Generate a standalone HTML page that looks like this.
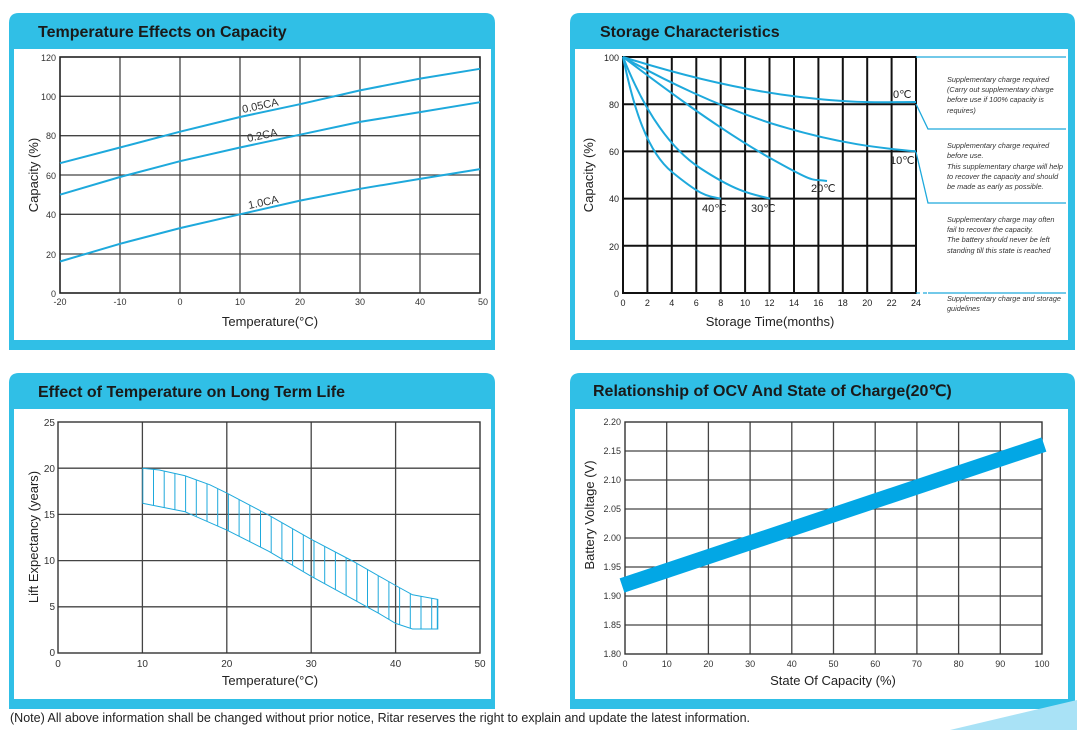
<!DOCTYPE html>
<html><head><meta charset="utf-8"><style>
html,body{margin:0;padding:0;background:#fff;}
svg{display:block;font-family:"Liberation Sans",Arial,sans-serif;}
</style></head><body>
<svg width="1077" height="730" viewBox="0 0 1077 730" xmlns="http://www.w3.org/2000/svg">
<defs>
<clipPath id="band"><polygon points="142.4,468.2 159.3,470 184.6,475.6 209.9,484.8 226.8,493.1 269,515.3 311.2,539.3 353.4,561.5 395.6,585.5 412.5,594.8 437.8,599.4 437.8,629 412.5,629 395.6,623.4 378.7,613.3 353.4,599.4 311.2,576.3 269,551.4 226.8,530.1 184.6,511.6 142.4,503.3"/></clipPath>
</defs>
<g fill="#30bfe6">
<path d="M9,23 Q9,13 19,13 L485,13 Q495,13 495,23 L495,350 L9,350 Z"/>
<path d="M570,23 Q570,13 580,13 L1065,13 Q1075,13 1075,23 L1075,350 L570,350 Z"/>
<path d="M9,383 Q9,373 19,373 L485,373 Q495,373 495,383 L495,709 L9,709 Z"/>
<path d="M570,383 Q570,373 580,373 L1065,373 Q1075,373 1075,383 L1075,709 L570,709 Z"/>
</g>
<g fill="#fff">
<rect x="14" y="49" width="477" height="291"/>
<rect x="575" y="49" width="493" height="291"/>
<rect x="14" y="409" width="477" height="290"/>
<rect x="575" y="409" width="493" height="290"/>
</g>
<g font-weight="bold" font-size="16" fill="#1a1a1a">
<text x="38" y="37">Temperature Effects on Capacity</text>
<text x="600" y="37">Storage Characteristics</text>
<text x="38" y="397">Effect of Temperature on Long Term Life</text>
<text x="593" y="396">Relationship of OCV And State of Charge(20℃)</text>
</g>
<polygon points="950,730 1077,700 1077,730" fill="#a9e2f6"/>
<text x="10" y="722" font-size="12.5" fill="#222">(Note) All above information shall be changed without prior notice, Ritar reserves the right to explain and update the latest information.</text>

<g stroke="#444" stroke-width="1.3">
<line x1="120" y1="57" x2="120" y2="293"/><line x1="180" y1="57" x2="180" y2="293"/><line x1="240" y1="57" x2="240" y2="293"/><line x1="300" y1="57" x2="300" y2="293"/><line x1="360" y1="57" x2="360" y2="293"/><line x1="420" y1="57" x2="420" y2="293"/>
<line x1="60" y1="254" x2="480" y2="254"/><line x1="60" y1="214.3" x2="480" y2="214.3"/><line x1="60" y1="175" x2="480" y2="175"/><line x1="60" y1="135.7" x2="480" y2="135.7"/><line x1="60" y1="96.3" x2="480" y2="96.3"/>
</g>
<rect x="60" y="57" width="420" height="236" fill="none" stroke="#222" stroke-width="1.6"/>
<g fill="none" stroke="#1ea9dc" stroke-width="2">
<polyline points="60,163.2 120,147.5 180,131.7 240,117 300,104.2 360,90.4 420,78.6 480,68.8"/>
<polyline points="60,194.7 120,177 180,161.2 240,147.5 300,134.7 360,121.9 420,112.1 480,102.2"/>
<polyline points="60,261.5 120,243.8 180,228.1 240,214.3 300,200.6 360,188.8 420,178.9 480,169.1"/>
</g>
<g font-size="11" fill="#333">
<text x="243" y="113" transform="rotate(-12 243 113)">0.05CA</text>
<text x="248" y="142" transform="rotate(-12 248 142)">0.2CA</text>
<text x="249" y="209" transform="rotate(-12 249 209)">1.0CA</text>
</g>
<g font-size="9" fill="#333" text-anchor="end">
<text x="56" y="61">120</text><text x="56" y="100">100</text><text x="56" y="139">80</text><text x="56" y="179">60</text><text x="56" y="218">40</text><text x="56" y="258">20</text><text x="56" y="297">0</text>
</g>
<g font-size="9" fill="#333" text-anchor="middle">
<text x="60" y="305">-20</text><text x="120" y="305">-10</text><text x="180" y="305">0</text><text x="240" y="305">10</text><text x="300" y="305">20</text><text x="360" y="305">30</text><text x="420" y="305">40</text><text x="483" y="305">50</text>
</g>
<text x="270" y="326" font-size="13" fill="#222" text-anchor="middle">Temperature(°C)</text>
<text x="38" y="175" font-size="13" fill="#222" text-anchor="middle" transform="rotate(-90 38 175)">Capacity  (%)</text>

<g stroke="#111" stroke-width="2">
<line x1="647.4" y1="57" x2="647.4" y2="293"/><line x1="671.8" y1="57" x2="671.8" y2="293"/><line x1="696.3" y1="57" x2="696.3" y2="293"/><line x1="720.7" y1="57" x2="720.7" y2="293"/><line x1="745.1" y1="57" x2="745.1" y2="293"/><line x1="769.5" y1="57" x2="769.5" y2="293"/><line x1="794" y1="57" x2="794" y2="293"/><line x1="818.4" y1="57" x2="818.4" y2="293"/><line x1="842.8" y1="57" x2="842.8" y2="293"/><line x1="867.2" y1="57" x2="867.2" y2="293"/><line x1="891.6" y1="57" x2="891.6" y2="293"/>
<line x1="623" y1="104.2" x2="916" y2="104.2"/><line x1="623" y1="151.4" x2="916" y2="151.4"/><line x1="623" y1="198.6" x2="916" y2="198.6"/><line x1="623" y1="245.8" x2="916" y2="245.8"/>
</g>
<rect x="623" y="57" width="293" height="236" fill="none" stroke="#111" stroke-width="2"/>
<g fill="none" stroke="#1ea9dc" stroke-width="2" stroke-linejoin="round">
<path d="M623,57 C680,75 740,90 800,97 S880,102 916,102"/>
<path d="M623,57 C660,78 720,108 780,126 S880,148 916,151.4"/>
<path d="M623,57 C660,85 720,130 770,158 S810,178 827,181"/>
<path d="M623,57 C640,100 665,145 700,168 S750,194 770,198.6"/>
<path d="M623,57 C632,100 645,150 672,172 S705,196 721,198.6"/>
</g>
<g font-size="11" fill="#222">
<text x="893" y="98">0℃</text><text x="890" y="164">10℃</text><text x="811" y="192">20℃</text><text x="702" y="212">40℃</text><text x="751" y="212">30℃</text>
</g>
<g fill="none" stroke="#1ea9dc" stroke-width="1.3">
<line x1="916" y1="57" x2="1066" y2="57"/>
<polyline points="916,104 928,129 1066,129"/>
<polyline points="916,152 928,203 1066,203"/>
<line x1="928" y1="293" x2="1066" y2="293"/>
<line x1="916" y1="293" x2="928" y2="293" stroke-dasharray="4,3"/>
</g>
<g font-size="7.3" font-style="italic" fill="#333">
<text x="947" y="82">Supplementary charge required</text>
<text x="947" y="92">(Carry out supplementary charge</text>
<text x="947" y="102">before use if 100% capacity is</text>
<text x="947" y="113">requires)</text>
<text x="947" y="148">Supplementary charge required</text>
<text x="947" y="158">before use.</text>
<text x="947" y="169">This supplementary charge will help</text>
<text x="947" y="179">to recover the capacity and should</text>
<text x="947" y="189">be made  as early as possible.</text>
<text x="947" y="222">Supplementary charge may often</text>
<text x="947" y="232">fail to recover the capacity.</text>
<text x="947" y="242">The battery should never be left</text>
<text x="947" y="253">standing till this state is reached</text>
<text x="947" y="301">Supplementary charge and storage</text>
<text x="947" y="311">guidelines</text>
</g>
<g font-size="9" fill="#222" text-anchor="end">
<text x="619" y="61">100</text><text x="619" y="108">80</text><text x="619" y="155">60</text><text x="619" y="202">40</text><text x="619" y="250">20</text><text x="619" y="297">0</text>
</g>
<g font-size="9" fill="#222" text-anchor="middle">
<text x="623" y="306">0</text><text x="647.4" y="306">2</text><text x="671.8" y="306">4</text><text x="696.3" y="306">6</text><text x="720.7" y="306">8</text><text x="745.1" y="306">10</text><text x="769.5" y="306">12</text><text x="794" y="306">14</text><text x="818.4" y="306">16</text><text x="842.8" y="306">18</text><text x="867.2" y="306">20</text><text x="891.6" y="306">22</text><text x="916" y="306">24</text>
</g>
<text x="770" y="326" font-size="13" fill="#222" text-anchor="middle">Storage  Time(months)</text>
<text x="593" y="175" font-size="13" fill="#222" text-anchor="middle" transform="rotate(-90 593 175)">Capacity  (%)</text>

<g stroke="#444" stroke-width="1.3">
<line x1="142.4" y1="422" x2="142.4" y2="653"/><line x1="226.8" y1="422" x2="226.8" y2="653"/><line x1="311.2" y1="422" x2="311.2" y2="653"/><line x1="395.6" y1="422" x2="395.6" y2="653"/>
<line x1="58" y1="606.8" x2="480" y2="606.8"/><line x1="58" y1="560.6" x2="480" y2="560.6"/><line x1="58" y1="514.4" x2="480" y2="514.4"/><line x1="58" y1="468.2" x2="480" y2="468.2"/>
</g>
<rect x="58" y="422" width="422" height="231" fill="none" stroke="#333" stroke-width="1.4"/>
<g clip-path="url(#band)" stroke="#1ea9dc" stroke-width="1">
<line x1="142.8" y1="460" x2="142.8" y2="640"/><line x1="153.5" y1="460" x2="153.5" y2="640"/><line x1="164.2" y1="460" x2="164.2" y2="640"/><line x1="174.9" y1="460" x2="174.9" y2="640"/><line x1="185.6" y1="460" x2="185.6" y2="640"/><line x1="196.3" y1="460" x2="196.3" y2="640"/><line x1="207" y1="460" x2="207" y2="640"/><line x1="217.7" y1="460" x2="217.7" y2="640"/><line x1="228.4" y1="460" x2="228.4" y2="640"/><line x1="239.1" y1="460" x2="239.1" y2="640"/><line x1="249.8" y1="460" x2="249.8" y2="640"/><line x1="260.5" y1="460" x2="260.5" y2="640"/><line x1="271.2" y1="460" x2="271.2" y2="640"/><line x1="281.9" y1="460" x2="281.9" y2="640"/><line x1="292.6" y1="460" x2="292.6" y2="640"/><line x1="303.3" y1="460" x2="303.3" y2="640"/><line x1="314" y1="460" x2="314" y2="640"/><line x1="324.7" y1="460" x2="324.7" y2="640"/><line x1="335.4" y1="460" x2="335.4" y2="640"/><line x1="346.1" y1="460" x2="346.1" y2="640"/><line x1="356.8" y1="460" x2="356.8" y2="640"/><line x1="367.5" y1="460" x2="367.5" y2="640"/><line x1="378.2" y1="460" x2="378.2" y2="640"/><line x1="388.9" y1="460" x2="388.9" y2="640"/><line x1="399.6" y1="460" x2="399.6" y2="640"/><line x1="410.3" y1="460" x2="410.3" y2="640"/><line x1="421" y1="460" x2="421" y2="640"/><line x1="431.7" y1="460" x2="431.7" y2="640"/><line x1="437.3" y1="460" x2="437.3" y2="640"/>
</g>
<g fill="none" stroke="#1ea9dc" stroke-width="1">
<polyline points="142.4,468.2 159.3,470 184.6,475.6 209.9,484.8 226.8,493.1 269,515.3 311.2,539.3 353.4,561.5 395.6,585.5 412.5,594.8 437.8,599.4 437.8,629 412.5,629 395.6,623.4 378.7,613.3 353.4,599.4 311.2,576.3 269,551.4 226.8,530.1 184.6,511.6 142.4,503.3"/>
</g>
<g font-size="10" fill="#333" text-anchor="end">
<text x="55" y="426">25</text><text x="55" y="472">20</text><text x="55" y="518">15</text><text x="55" y="564">10</text><text x="55" y="610">5</text><text x="55" y="656">0</text>
</g>
<g font-size="10" fill="#333" text-anchor="middle">
<text x="58" y="667">0</text><text x="142.4" y="667">10</text><text x="226.8" y="667">20</text><text x="311.2" y="667">30</text><text x="395.6" y="667">40</text><text x="480" y="667">50</text>
</g>
<text x="270" y="685" font-size="13" fill="#222" text-anchor="middle">Temperature(°C)</text>
<text x="38" y="537" font-size="13" fill="#222" text-anchor="middle" transform="rotate(-90 38 537)">Lift  Expectancy  (years)</text>

<g stroke="#444" stroke-width="1.3">
<line x1="666.7" y1="422" x2="666.7" y2="654"/><line x1="708.4" y1="422" x2="708.4" y2="654"/><line x1="750.1" y1="422" x2="750.1" y2="654"/><line x1="791.8" y1="422" x2="791.8" y2="654"/><line x1="833.5" y1="422" x2="833.5" y2="654"/><line x1="875.2" y1="422" x2="875.2" y2="654"/><line x1="916.9" y1="422" x2="916.9" y2="654"/><line x1="958.6" y1="422" x2="958.6" y2="654"/><line x1="1000.3" y1="422" x2="1000.3" y2="654"/>
<line x1="625" y1="625" x2="1042" y2="625"/><line x1="625" y1="596" x2="1042" y2="596"/><line x1="625" y1="567" x2="1042" y2="567"/><line x1="625" y1="538" x2="1042" y2="538"/><line x1="625" y1="509" x2="1042" y2="509"/><line x1="625" y1="480" x2="1042" y2="480"/><line x1="625" y1="451" x2="1042" y2="451"/>
</g>
<rect x="625" y="422" width="417" height="232" fill="none" stroke="#333" stroke-width="1.4"/>
<line x1="622" y1="585.5" x2="1044" y2="444.5" stroke="#02a7e5" stroke-width="15"/>
<g font-size="9" fill="#333" text-anchor="end">
<text x="621" y="425">2.20</text><text x="621" y="454">2.15</text><text x="621" y="483">2.10</text><text x="621" y="512">2.05</text><text x="621" y="541">2.00</text><text x="621" y="570">1.95</text><text x="621" y="599">1.90</text><text x="621" y="628">1.85</text><text x="621" y="657">1.80</text>
</g>
<g font-size="9" fill="#333" text-anchor="middle">
<text x="625" y="667">0</text><text x="666.7" y="667">10</text><text x="708.4" y="667">20</text><text x="750.1" y="667">30</text><text x="791.8" y="667">40</text><text x="833.5" y="667">50</text><text x="875.2" y="667">60</text><text x="916.9" y="667">70</text><text x="958.6" y="667">80</text><text x="1000.3" y="667">90</text><text x="1042" y="667">100</text>
</g>
<text x="833" y="685" font-size="13" fill="#222" text-anchor="middle">State Of Capacity (%)</text>
<text x="594" y="515" font-size="13" fill="#222" text-anchor="middle" transform="rotate(-90 594 515)">Battery Voltage (V)</text>
</svg>
</body></html>
